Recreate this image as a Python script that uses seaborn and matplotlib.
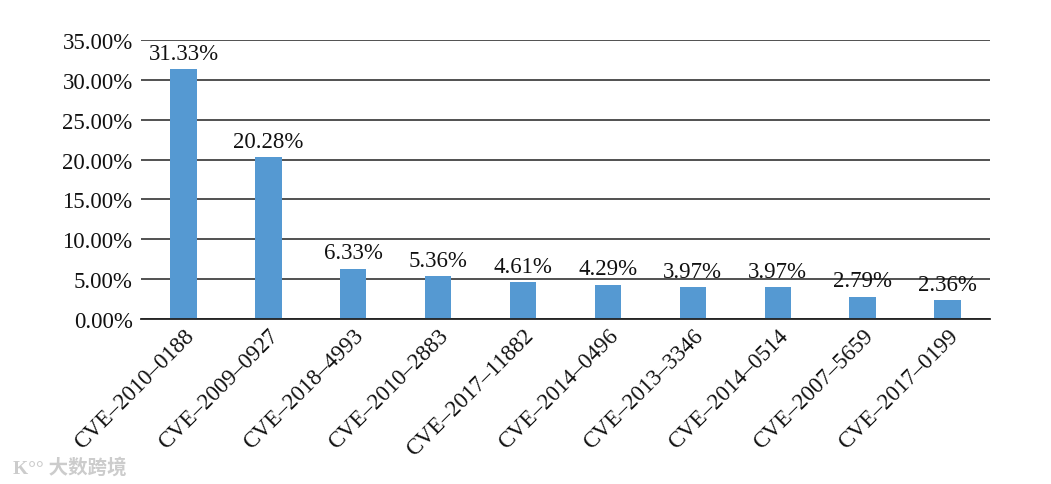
import matplotlib
matplotlib.use("Agg")
import matplotlib.pyplot as plt
import seaborn as sns
import pandas as pd
from matplotlib.ticker import FuncFormatter

categories = ["CVE–2010–0188", "CVE–2009–0927", "CVE–2018–4993", "CVE–2010–2883",
              "CVE–2017–11882", "CVE–2014–0496", "CVE–2013–3346", "CVE–2014–0514",
              "CVE–2007–5659", "CVE–2017–0199"]
values = [31.33, 20.28, 6.33, 5.36, 4.61, 4.29, 3.97, 3.97, 2.79, 2.36]
yticks = [0, 5, 10, 15, 20, 25, 30, 35]

sns.set_theme(style="white")
plt.rcParams['font.family'] = ['Liberation Serif', 'Noto Sans CJK SC', 'DejaVu Sans']

df = pd.DataFrame({"cve": categories, "pct": values})

fig = plt.figure(figsize=(10.51, 4.85), dpi=100)
ax = fig.add_axes([141/1051, 1-320/485, (990-141)/1051, (320-41)/485])

sns.barplot(data=df, x="cve", y="pct", color="#5599d2", width=0.31, ax=ax,
            saturation=1, edgecolor="none")

ax.set_ylim(0, 35)
ax.set_xlim(-0.5, len(categories)-0.5)
ax.set_yticks(yticks)
ax.yaxis.set_major_formatter(FuncFormatter(lambda v, p: f"{v:.2f}%"))
ax.grid(axis="y", color="#222222", linewidth=1.1)
ax.set_axisbelow(True)
for s in ["top", "right", "left"]:
    ax.spines[s].set_visible(False)
ax.spines["bottom"].set_color("#222222")
ax.spines["bottom"].set_linewidth(1.3)
ax.set_xlabel("")
ax.set_ylabel("")
ax.tick_params(axis="both", length=0, labelsize=16.5, colors="#111111")
ax.tick_params(axis="y", pad=6)
ax.tick_params(axis="x", pad=4)
plt.setp(ax.get_xticklabels(), rotation=45, ha="right", rotation_mode="anchor")

for i, v in enumerate(values):
    ax.annotate(f"{v:.2f}%", (i, v), xytext=(0, 4), textcoords="offset points",
                ha="center", va="bottom", fontsize=16.5, color="#111111")

fig.text(0.012, 0.035, "K°° 大数跨境", fontsize=14, color="#cccccc",
         fontweight="bold", ha="left", va="center")

fig.savefig("out.png", dpi=100)
